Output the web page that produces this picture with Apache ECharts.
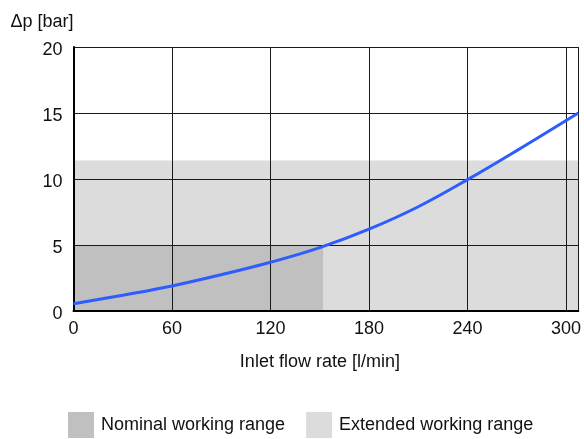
<!DOCTYPE html>
<html><head><meta charset="utf-8">
<script src="https://cdn.jsdelivr.net/npm/echarts@6/dist/echarts.min.js"></script>
<style>html,body{margin:0;padding:0;background:#fff}#c{width:584px;height:439px}</style>
</head><body><div id="c"></div>
<script>
const flow = [0, 30, 60, 90, 120, 150, 180, 210, 240, 270, 307.5];
const dp = [0.55, 1.2, 1.9, 2.75, 3.69, 4.8, 6.2, 7.9, 9.95, 12.15, 15.0];
const xTicks = [0, 60, 120, 180, 240, 300];
const yTicks = [0, 5, 10, 15, 20];
const xMax = 307.5;
const nominalRange = [[0, 0], [152, 5]];
const extendedRange = [[0, 0], [307.5, 11.4]];
const seriesNames = ['Nominal working range', 'Extended working range'];
const axisNames = ['Inlet flow rate [l/min]', 'Δp [bar]'];

const font = 'Liberation Sans, Arial, sans-serif';
const chart = echarts.init(document.getElementById('c'), null, {renderer: 'canvas'});
chart.setOption({
  animation: false,
  grid: {left: 73.5, right: 5.5, top: 47, bottom: 128},
  legend: {
    left: 68, top: 412, padding: 0,
    itemWidth: 26, itemHeight: 26, itemGap: 21,
    icon: 'rect',
    data: seriesNames,
    textStyle: {fontSize: 18, color: '#111', fontFamily: font, padding: [0, 0, 0, 2]}
  },
  xAxis: {
    type: 'value', min: 0, max: xMax, interval: 60, z: 1.5,
    name: axisNames[0], nameLocation: 'middle', nameGap: 42,
    nameTextStyle: {fontSize: 18, color: '#111', fontFamily: font, padding: [0, 12, 0, 0]},
    axisLine: {show: true, lineStyle: {color: '#000', width: 2}},
    axisTick: {show: false},
    axisLabel: {
      fontSize: 18, color: '#111', fontFamily: font, margin: 9,
      formatter: v => xTicks.includes(v) ? String(v) : ''
    },
    splitLine: {show: true, lineStyle: {color: '#1a1a1a', width: 1}}
  },
  yAxis: {
    type: 'value', min: 0, max: 20, interval: 5, z: 1.5,
    name: axisNames[1], nameLocation: 'end', nameGap: 16,
    nameTextStyle: {fontSize: 18, color: '#111', fontFamily: font, align: 'right'},
    axisLine: {show: true, lineStyle: {color: '#000', width: 2}},
    axisTick: {show: false},
    axisLabel: {
      fontSize: 18, color: '#111', fontFamily: font, margin: 11,
      verticalAlign: 'top', lineHeight: 6,
      formatter: v => yTicks.includes(v) ? String(v) : ''
    },
    splitLine: {show: true, lineStyle: {color: '#1a1a1a', width: 1}}
  },
  series: [
    {
      name: seriesNames[1], type: 'line', data: [], z: 1,
      itemStyle: {color: '#dcdcdc'}, lineStyle: {color: '#dcdcdc'},
      markArea: {silent: true, z: 1, itemStyle: {color: '#dcdcdc', opacity: 1},
        data: [[{coord: extendedRange[0]}, {coord: extendedRange[1]}]]}
    },
    {
      name: seriesNames[0], type: 'line', data: [], z: 1,
      itemStyle: {color: '#c0c0c0'}, lineStyle: {color: '#c0c0c0'},
      markArea: {silent: true, z: 1, itemStyle: {color: '#c0c0c0', opacity: 1},
        data: [[{coord: nominalRange[0]}, {coord: nominalRange[1]}]]}
    },
    {
      name: 'curve', type: 'line', z: 3,
      data: flow.map((x, i) => [x, dp[i]]),
      smooth: 0.4, showSymbol: false,
      lineStyle: {color: '#2d5cff', width: 3}
    }
  ]
});
</script></body></html>
